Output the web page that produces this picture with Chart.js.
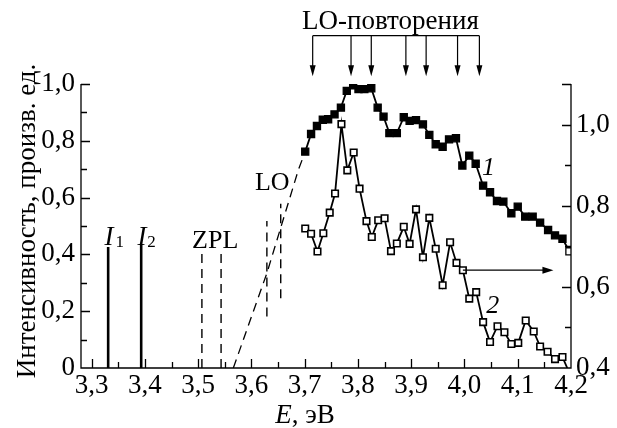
<!DOCTYPE html>
<html><head><meta charset="utf-8">
<script src="https://cdn.jsdelivr.net/npm/chart.js@4/dist/chart.umd.min.js"></script>
<style>html,body{margin:0;padding:0;background:#fff}canvas{display:block}</style>
</head><body>
<canvas id="c" width="617" height="428"></canvas>
<script>
// ---- data ----
const s1E = [3.701,3.712,3.723,3.734,3.744,3.756,3.768,3.779,3.791,3.801,3.812,3.825,3.837,3.848,3.859,3.873,3.886,3.897,3.909,3.922,3.934,3.946,3.959,3.971,3.984,3.996,4.009,4.021,4.035,4.048,4.061,4.073,4.088,4.100,4.114,4.128,4.142,4.157,4.170,4.184,4.197];
const s1I = [0.762,0.824,0.852,0.874,0.876,0.893,0.917,0.976,0.995,0.982,0.982,0.985,0.917,0.885,0.827,0.827,0.883,0.870,0.873,0.858,0.821,0.788,0.779,0.805,0.809,0.713,0.748,0.719,0.642,0.619,0.588,0.586,0.545,0.568,0.533,0.533,0.512,0.486,0.467,0.455,0.411];
const s2E = [3.701,3.712,3.724,3.735,3.747,3.757,3.769,3.780,3.792,3.803,3.816,3.826,3.838,3.850,3.862,3.873,3.886,3.897,3.909,3.922,3.934,3.946,3.959,3.973,3.985,3.997,4.009,4.022,4.035,4.048,4.062,4.075,4.088,4.101,4.115,4.130,4.142,4.156,4.170,4.184,4.193];
const s2I = [0.744,0.731,0.687,0.732,0.783,0.830,1.001,0.887,0.931,0.842,0.762,0.723,0.764,0.769,0.688,0.707,0.748,0.706,0.791,0.673,0.770,0.694,0.604,0.710,0.659,0.641,0.571,0.587,0.513,0.464,0.503,0.488,0.459,0.462,0.517,0.490,0.453,0.440,0.422,0.427,0.400];

const xTicks = [3.3,3.4,3.5,3.6,3.7,3.8,3.9,4.0,4.1,4.2];
const yLeftTicks = [0,0.2,0.4,0.6,0.8,1.0];
const yRightTicks = [0.4,0.6,0.8,1.0];

// vertical marker lines
const impE = [3.331, 3.393];       // I1, I2 (solid)
const impTop = [0.426, 0.434];
const zplE = [3.507, 3.543];       // ZPL (dashed)
const zplTop = [0.407, 0.410];
const loE = [3.629, 3.655];        // LO (dashed)
const loBottom = [0.181, 0.246];
const loTop = [0.518, 0.578];
// dashed extrapolation of curve 1
const tailE = [3.566, 3.629, 3.688, 3.701];
const tailI = [0, 0.334, 0.697, 0.762];
// LO-repetition arrows
const repE = [3.715, 3.787, 3.825, 3.890, 3.928, 3.987, 4.028];
const repTopY = 1.17, repTipY = 1.027, repTextY = 1.219, repTextE = 3.861;
// horizontal arrow of curve 2 (right axis)
const arrowE = [3.997, 4.167];
const arrowY = 0.641;
// label anchors
const impLabelE = [3.324, 3.386], impSubE = [3.345, 3.4045], impLabelY = 0.434;

const FONT = "'Liberation Serif', 'Times New Roman', serif";
const lineDS = (xs, ys, dash, width, axis) => ({
  data: xs.map((x, i) => ({x, y: ys[i]})),
  borderColor: '#000', borderWidth: width, borderDash: dash, pointRadius: 0,
  yAxisID: axis || 'y', tension: 0, fill: false, order: 5
});
const datasets = [
  {
    data: s1E.map((x, i) => ({x, y: s1I[i]})),
    borderColor: '#000', borderWidth: 1.8, yAxisID: 'y',
    pointStyle: 'rect', pointRadius: 5,
    pointBackgroundColor: s1E.map((_, i) => i === s1E.length - 1 ? '#fff' : '#000'),
    pointBorderColor: '#000', pointBorderWidth: 1.3, order: 1
  },
  {
    data: s2E.map((x, i) => ({x, y: s2I[i]})),
    borderColor: '#000', borderWidth: 1.8, yAxisID: 'y2',
    pointStyle: 'rect', pointRadius: s2E.map((_, i) => i === s2E.length - 1 ? 0 : 4.6),
    pointBackgroundColor: '#fff', pointBorderColor: '#000', pointBorderWidth: 1.6, order: 2
  },
  lineDS(tailE, tailI, [9, 6], 1.3)
];
impE.forEach((e, i) => datasets.push(lineDS([e, e], [0, impTop[i]], [], 2.6)));
zplE.forEach((e, i) => datasets.push(lineDS([e, e], [0, zplTop[i]], [9, 6], 1.4)));
loE.forEach((e, i) => datasets.push(lineDS([e, e], [loBottom[i], loTop[i]], [9, 6], 1.4)));

const fmt = v => (Math.abs(v) < 1e-9 ? '0' : v.toFixed(1).replace('.', ','));

const decor = {
  id: 'decor',
  afterDatasetsDraw(chart) {
    const ctx = chart.ctx, X = chart.scales.x, Y = chart.scales.y, Y2 = chart.scales.y2;
    const a = chart.chartArea;
    ctx.save();
    ctx.strokeStyle = '#000'; ctx.fillStyle = '#000'; ctx.lineWidth = 1.3;
    // axis lines
    ctx.beginPath();
    ctx.moveTo(a.left, a.top); ctx.lineTo(a.left, a.bottom); ctx.lineTo(a.right, a.bottom); ctx.lineTo(a.right, a.top);
    ctx.stroke();
    // ticks (inward)
    ctx.beginPath();
    for (let k = 0; k <= 17; k++) {
      const v = 3.3 + k * 0.05, px = Math.round(X.getPixelForValue(v)) + 0.5;
      const L = k % 2 === 0 ? 9 : 6;
      ctx.moveTo(px, a.bottom); ctx.lineTo(px, a.bottom - L);
    }
    for (let k = 1; k <= 10; k++) {
      const py = Math.round(Y.getPixelForValue(k * 0.1)) + 0.5;
      const L = k % 2 === 0 ? 9 : 6;
      ctx.moveTo(a.left, py); ctx.lineTo(a.left + L, py);
    }
    for (let k = 1; k <= 7; k++) {
      const py = Math.round(Y2.getPixelForValue(0.4 + k * 0.1)) + 0.5;
      const L = (k % 2 === 0 || k === 7) ? 9 : 6;
      ctx.moveTo(a.right, py); ctx.lineTo(a.right - L, py);
    }
    ctx.stroke();

    // arrow from curve 2 to the right axis
    const ay = Y2.getPixelForValue(arrowY);
    const ax0 = X.getPixelForValue(arrowE[0]), ax1 = X.getPixelForValue(arrowE[1]);
    ctx.lineWidth = 1.2;
    ctx.beginPath(); ctx.moveTo(ax0, ay); ctx.lineTo(ax1 - 8, ay); ctx.stroke();
    ctx.beginPath(); ctx.moveTo(ax1, ay); ctx.lineTo(ax1 - 11, ay - 3.5); ctx.lineTo(ax1 - 11, ay + 3.5); ctx.closePath(); ctx.fill();

    // LO-repetition bracket with arrows
    const ty = Y.getPixelForValue(repTopY), tip = Y.getPixelForValue(repTipY);
    const rx = repE.map(e => X.getPixelForValue(e));
    ctx.lineWidth = 1.2;
    ctx.beginPath();
    ctx.moveTo(rx[0], ty); ctx.lineTo(rx[rx.length - 1], ty);
    rx.forEach(x => { ctx.moveTo(x, ty); ctx.lineTo(x, tip - 8); });
    ctx.stroke();
    rx.forEach(x => {
      ctx.beginPath(); ctx.moveTo(x, tip); ctx.lineTo(x - 3, tip - 11); ctx.lineTo(x + 3, tip - 11); ctx.closePath(); ctx.fill();
    });

    // texts
    ctx.textBaseline = 'middle'; ctx.textAlign = 'center';
    ctx.font = `27px ${FONT}`;
    ctx.fillText('LO-повторения', X.getPixelForValue(repTextE), Y.getPixelForValue(repTextY));
    ctx.font = `26px ${FONT}`;
    ctx.fillText('LO', X.getPixelForValue(3.639), Y.getPixelForValue(0.651));
    ctx.fillText('ZPL', X.getPixelForValue(3.532), Y.getPixelForValue(0.448));
    ctx.font = `italic 26px ${FONT}`;
    ctx.fillText('1', X.getPixelForValue(4.045), Y.getPixelForValue(0.703));
    ctx.fillText('2', X.getPixelForValue(4.053), Y.getPixelForValue(0.219));
    // I1, I2
    ctx.textBaseline = 'alphabetic'; ctx.textAlign = 'left';
    ['1', '2'].forEach((s, i) => {
      const py = Y.getPixelForValue(impLabelY);
      ctx.font = `italic 27px ${FONT}`;
      ctx.fillText('I', X.getPixelForValue(impLabelE[i]), py);
      ctx.font = `17px ${FONT}`;
      ctx.fillText(s, X.getPixelForValue(impSubE[i]), py + 2.5);
    });
    // axis titles
    const t1 = 'E', t2 = ', эВ';
    ctx.font = `italic 27px ${FONT}`; const w1 = ctx.measureText(t1).width;
    ctx.font = `27px ${FONT}`; const w2 = ctx.measureText(t2).width;
    const cx = (a.left + a.right) / 2 - 21, x0 = cx - (w1 + w2) / 2, yT = 423;
    ctx.font = `italic 27px ${FONT}`; ctx.fillText(t1, x0, yT);
    ctx.font = `27px ${FONT}`; ctx.fillText(t2, x0 + w1, yT);
    ctx.save();
    ctx.translate(35, 221);
    ctx.rotate(-Math.PI / 2);
    ctx.textAlign = 'center';
    ctx.font = `27px ${FONT}`;
    ctx.fillText('Интенсивность, произв. ед.', 0, 0);
    ctx.restore();
    ctx.restore();
  }
};

new Chart(document.getElementById('c'), {
  type: 'line',
  data: { datasets },
  options: {
    responsive: false, animation: false, events: [],
    layout: { padding: { top: 84, left: 0, right: 0, bottom: 0 } },
    plugins: { legend: { display: false }, tooltip: { enabled: false } },
    scales: {
      x: {
        type: 'linear', min: 3.28, max: 4.2, position: 'bottom',
        grid: { display: false, drawTicks: false }, border: { display: false },
        afterBuildTicks: s => { s.ticks = xTicks.map(v => ({ value: v })); },
        afterFit: s => { s.height = 60; },
        ticks: { autoSkip: false, maxRotation: 0, padding: 2, color: '#000',
          font: { family: FONT, size: 27 }, callback: v => fmt(v) }
      },
      y: {
        type: 'linear', min: 0, max: 1.0, position: 'left',
        grid: { display: false, drawTicks: false }, border: { display: false },
        afterBuildTicks: s => { s.ticks = yLeftTicks.map(v => ({ value: v })); },
        afterFit: s => { s.width = 81; },
        ticks: { autoSkip: false, padding: 6, color: '#000',
          font: { family: FONT, size: 27 }, callback: v => fmt(v) }
      },
      y2: {
        type: 'linear', min: 0.4, max: 1.1, position: 'right',
        grid: { display: false, drawTicks: false }, border: { display: false },
        afterBuildTicks: s => { s.ticks = yRightTicks.map(v => ({ value: v })); },
        afterFit: s => { s.width = 46; },
        ticks: { autoSkip: false, padding: 5, color: '#000',
          font: { family: FONT, size: 27 }, callback: v => fmt(v) }
      }
    }
  },
  plugins: [decor]
});
</script>
</body></html>
